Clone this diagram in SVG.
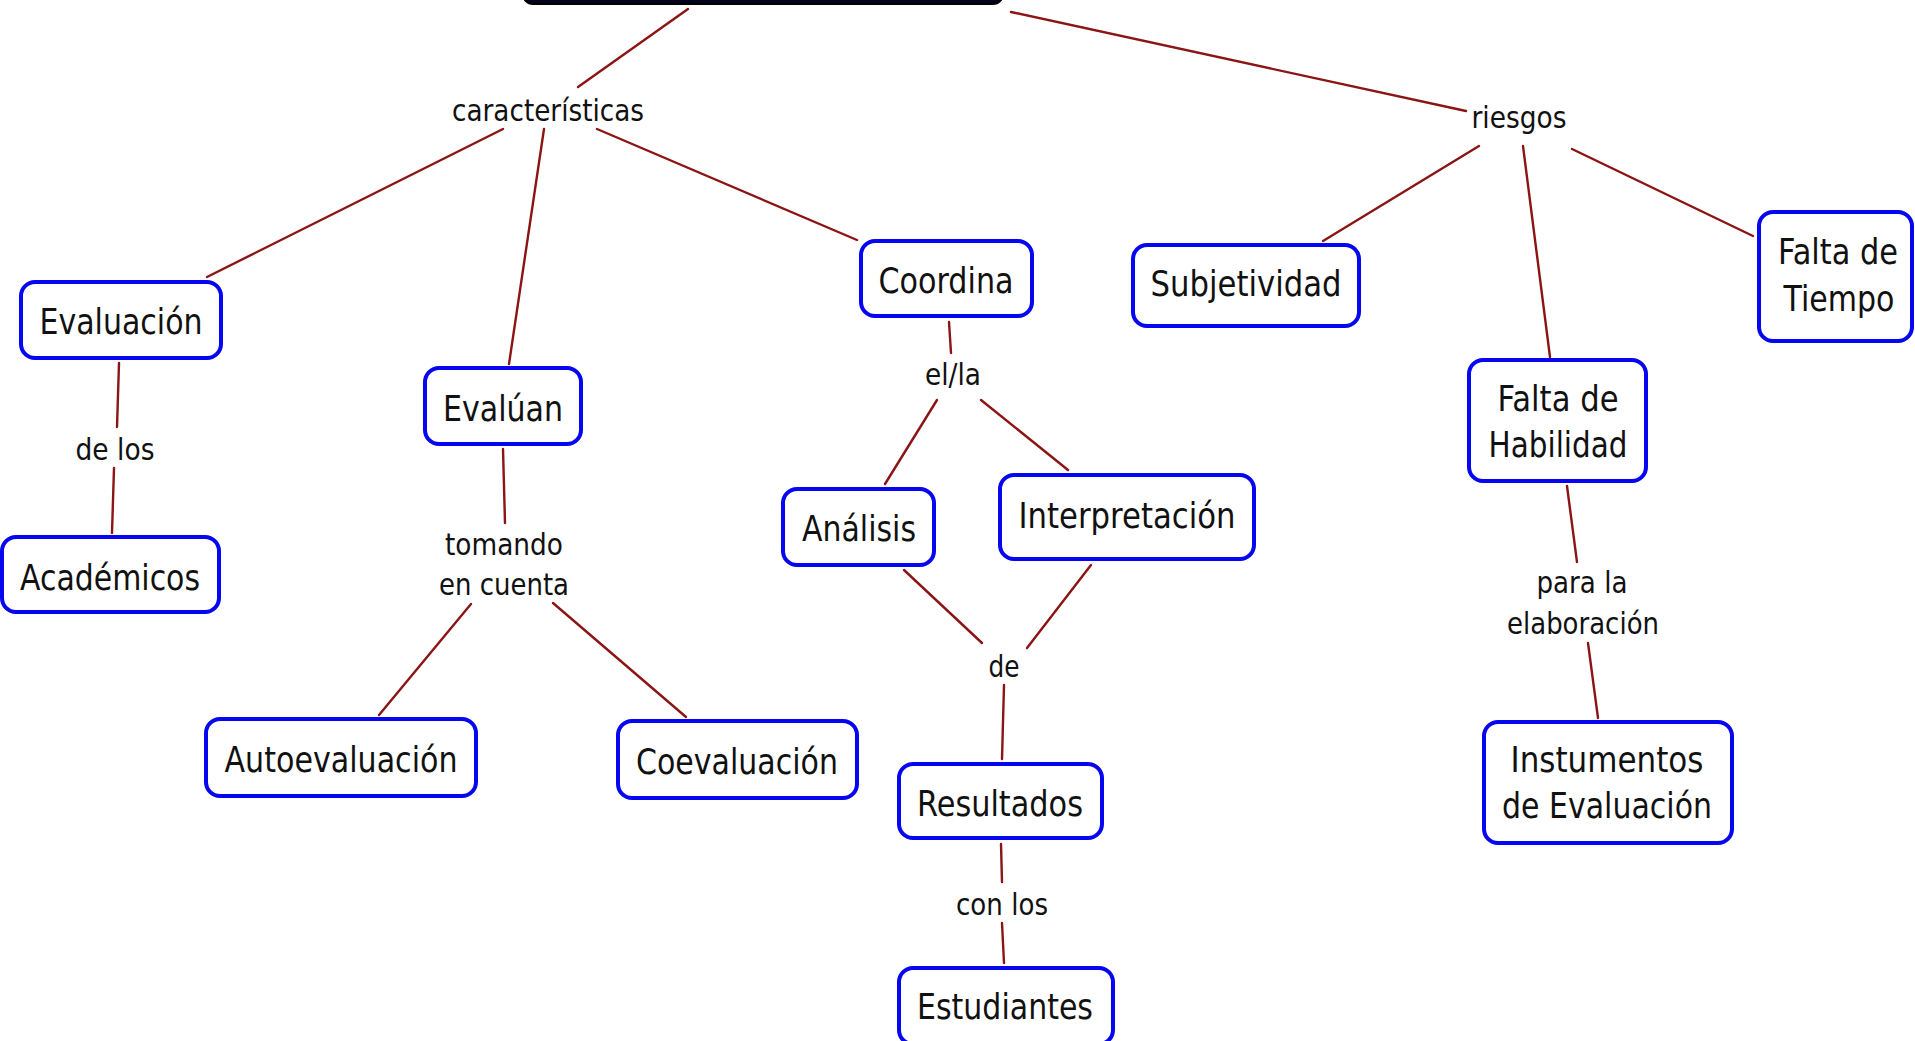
<svg xmlns="http://www.w3.org/2000/svg" width="1915" height="1041" viewBox="0 0 1915 1041">
<style>
.bg{fill:#ffffff}
.box{fill:#ffffff;stroke:#0606f0;stroke-width:4}
.t{font-family:"DejaVu Sans","Liberation Sans",sans-serif;font-size:35px;fill:#111111;text-anchor:middle}
.l{font-family:"DejaVu Sans","Liberation Sans",sans-serif;font-size:31px;fill:#111111;text-anchor:middle}
.c{stroke:#8b1414;stroke-width:2.4;fill:none;stroke-linecap:round}
</style>
<rect class="bg" x="0" y="0" width="1915" height="1041"/>
<g id="connectors">
<line class="c" x1="688" y1="9" x2="578" y2="87"/>
<line class="c" x1="1011" y1="12" x2="1466" y2="111"/>
<line class="c" x1="503" y1="129" x2="207" y2="277"/>
<line class="c" x1="544" y1="129" x2="509" y2="364"/>
<line class="c" x1="597" y1="129" x2="857" y2="240"/>
<line class="c" x1="1479" y1="146" x2="1323" y2="241"/>
<line class="c" x1="1523" y1="146" x2="1550" y2="357"/>
<line class="c" x1="1572" y1="149" x2="1753" y2="236"/>
<line class="c" x1="119" y1="363" x2="117" y2="427"/>
<line class="c" x1="114" y1="468" x2="112" y2="533"/>
<line class="c" x1="503" y1="449" x2="505" y2="523"/>
<line class="c" x1="471" y1="604" x2="379" y2="715"/>
<line class="c" x1="553" y1="603" x2="686" y2="717"/>
<line class="c" x1="949" y1="322" x2="951" y2="353"/>
<line class="c" x1="937" y1="400" x2="885" y2="484"/>
<line class="c" x1="981" y1="400" x2="1068" y2="470"/>
<line class="c" x1="904" y1="570" x2="982" y2="643"/>
<line class="c" x1="1091" y1="565" x2="1027" y2="648"/>
<line class="c" x1="1004" y1="685" x2="1002" y2="759"/>
<line class="c" x1="1001" y1="844" x2="1002" y2="882"/>
<line class="c" x1="1002" y1="923" x2="1004" y2="963"/>
<line class="c" x1="1567" y1="486" x2="1577" y2="562"/>
<line class="c" x1="1588" y1="643" x2="1598" y2="718"/>
</g>
<g id="top-node"><rect x="523" y="-40" width="480" height="44" rx="10" fill="#03031c" stroke="#000000" stroke-width="2"/></g>
<g id="lp-caracteristicas"><text class="l" x="548" y="121" textLength="192" lengthAdjust="spacingAndGlyphs">características</text></g>
<g id="lp-riesgos"><text class="l" x="1519" y="128" textLength="95" lengthAdjust="spacingAndGlyphs">riesgos</text></g>
<g id="lp-delos"><text class="l" x="115" y="460" textLength="79" lengthAdjust="spacingAndGlyphs">de los</text></g>
<g id="lp-tomando"><text class="l" x="504" y="555" textLength="118" lengthAdjust="spacingAndGlyphs">tomando</text><text class="l" x="504" y="595" textLength="130" lengthAdjust="spacingAndGlyphs">en cuenta</text></g>
<g id="lp-ella"><text class="l" x="953" y="385" textLength="56" lengthAdjust="spacingAndGlyphs">el/la</text></g>
<g id="lp-de"><text class="l" x="1004" y="677" textLength="31" lengthAdjust="spacingAndGlyphs">de</text></g>
<g id="lp-conlos"><text class="l" x="1002" y="915" textLength="92" lengthAdjust="spacingAndGlyphs">con los</text></g>
<g id="lp-parala"><text class="l" x="1582" y="593" textLength="91" lengthAdjust="spacingAndGlyphs">para la</text><text class="l" x="1583" y="634" textLength="152" lengthAdjust="spacingAndGlyphs">elaboración</text></g>
<g id="n-evaluacion"><rect class="box" x="21" y="282" width="200" height="76" rx="14"/><text class="t" x="121" y="334" textLength="163" lengthAdjust="spacingAndGlyphs">Evaluación</text></g>
<g id="n-academicos"><rect class="box" x="2" y="537" width="217" height="75" rx="14"/><text class="t" x="110" y="590" textLength="180" lengthAdjust="spacingAndGlyphs">Académicos</text></g>
<g id="n-evaluan"><rect class="box" x="425" y="368" width="156" height="76" rx="14"/><text class="t" x="503" y="421" textLength="120" lengthAdjust="spacingAndGlyphs">Evalúan</text></g>
<g id="n-coordina"><rect class="box" x="861" y="241" width="171" height="75" rx="14"/><text class="t" x="946" y="293" textLength="135" lengthAdjust="spacingAndGlyphs">Coordina</text></g>
<g id="n-subjetividad"><rect class="box" x="1133" y="245" width="226" height="81" rx="14"/><text class="t" x="1246" y="296" textLength="191" lengthAdjust="spacingAndGlyphs">Subjetividad</text></g>
<g id="n-faltatiempo"><rect class="box" x="1759" y="212" width="153" height="129" rx="14"/><text class="t" x="1838" y="264" textLength="120" lengthAdjust="spacingAndGlyphs">Falta de</text><text class="t" x="1839" y="311" textLength="111" lengthAdjust="spacingAndGlyphs">Tiempo</text></g>
<g id="n-faltahabilidad"><rect class="box" x="1469" y="360" width="177" height="121" rx="14"/><text class="t" x="1558" y="411" textLength="121" lengthAdjust="spacingAndGlyphs">Falta de</text><text class="t" x="1558" y="457" textLength="139" lengthAdjust="spacingAndGlyphs">Habilidad</text></g>
<g id="n-analisis"><rect class="box" x="783" y="489" width="151" height="76" rx="14"/><text class="t" x="859" y="541" textLength="114" lengthAdjust="spacingAndGlyphs">Análisis</text></g>
<g id="n-interpretacion"><rect class="box" x="1000" y="475" width="254" height="84" rx="14"/><text class="t" x="1127" y="528" textLength="217" lengthAdjust="spacingAndGlyphs">Interpretación</text></g>
<g id="n-autoevaluacion"><rect class="box" x="206" y="719" width="270" height="77" rx="14"/><text class="t" x="341" y="772" textLength="233" lengthAdjust="spacingAndGlyphs">Autoevaluación</text></g>
<g id="n-coevaluacion"><rect class="box" x="618" y="721" width="239" height="77" rx="14"/><text class="t" x="737" y="774" textLength="202" lengthAdjust="spacingAndGlyphs">Coevaluación</text></g>
<g id="n-resultados"><rect class="box" x="899" y="764" width="203" height="74" rx="14"/><text class="t" x="1000" y="816" textLength="166" lengthAdjust="spacingAndGlyphs">Resultados</text></g>
<g id="n-estudiantes"><rect class="box" x="899" y="968" width="214" height="76" rx="14"/><text class="t" x="1005" y="1019" textLength="176" lengthAdjust="spacingAndGlyphs">Estudiantes</text></g>
<g id="n-instrumentos"><rect class="box" x="1484" y="722" width="248" height="121" rx="14"/><text class="t" x="1607" y="772" textLength="193" lengthAdjust="spacingAndGlyphs">Instumentos</text><text class="t" x="1607" y="818" textLength="210" lengthAdjust="spacingAndGlyphs">de Evaluación</text></g>
</svg>
